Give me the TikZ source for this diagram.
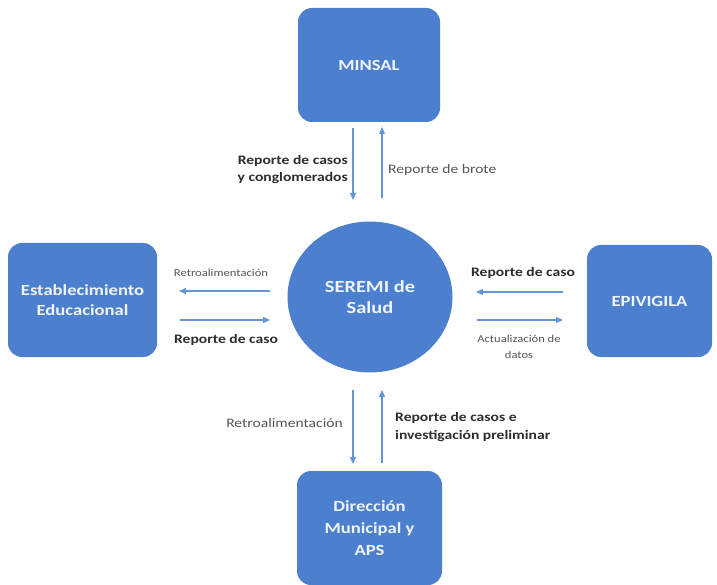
\documentclass[tikz,border=0pt]{standalone}
\usepackage{fontspec}
\setmainfont{Carlito}[FakeStretch=1.2]
\usetikzlibrary{arrows.meta,shapes.geometric}
\definecolor{boxblue}{RGB}{76,128,206}
\definecolor{arrblue}{RGB}{100,150,215}
\definecolor{txtdark}{RGB}{45,45,45}
\definecolor{txtgray}{RGB}{85,85,85}
\definecolor{boxtxt}{RGB}{240,244,252}
\tikzset{
  ent/.style={rectangle, rounded corners=14pt, fill=boxblue, draw=none, text=boxtxt, font=\bfseries\fontsize{15.5}{22}\selectfont, align=center, inner sep=0pt},
  flow/.style={draw=arrblue, line width=1.2pt, -{Triangle[length=7pt,width=6pt]}},
  lblb/.style={text=txtdark, font=\bfseries\fontsize{13}{18}\selectfont, inner sep=0pt},
  lbln/.style={text=txtgray, font=\fontsize{13}{18}\selectfont, inner sep=0pt},
  lbls/.style={text=txtgray, font=\fontsize{10.5}{16}\selectfont, inner sep=0pt, align=center}
}
\begin{document}
\begin{tikzpicture}[x=1pt,y=-1pt]
\useasboundingbox (0,0) rectangle (717,585);
% boxes
\node[ent, minimum width=142pt, minimum height=114pt] (minsal) at (369,65) {MINSAL};
\node[ent, minimum width=149pt, minimum height=114pt, font=\bfseries\fontsize{15.5}{20}\selectfont] (estab) at (82.5,300) {Establecimiento\\Educacional};
\node[ent, minimum width=125pt, minimum height=112pt] (epi) at (649.5,301) {EPIVIGILA};
\node[ent, minimum width=145pt, minimum height=114pt] (dir) at (369.5,528) {Dirección\\Municipal y\\APS};
\node[ellipse, fill=boxblue, minimum width=165pt, minimum height=151pt, text=boxtxt, font=\bfseries\fontsize{17}{21}\selectfont, align=center, inner sep=0pt] (seremi) at (370,297) {SEREMI de\\Salud};
% coordinates for arrows
\coordinate (t1) at (353,128); \coordinate (t2) at (353,200);
\coordinate (t3) at (382,198); \coordinate (t4) at (382,127);
\coordinate (l1) at (270,291); \coordinate (l2) at (179,291);
\coordinate (l3) at (180,320); \coordinate (l4) at (270,320);
\coordinate (r1) at (563,292); \coordinate (r2) at (476,292);
\coordinate (r3) at (477,320); \coordinate (r4) at (563,320);
\coordinate (b1) at (353,390); \coordinate (b2) at (353,464);
\coordinate (b3) at (382,463); \coordinate (b4) at (382,390);
\draw[flow] (t1) -- (t2);
\draw[flow] (t3) -- (t4);
\draw[flow] (l1) -- (l2);
\draw[flow] (l3) -- (l4);
\draw[flow] (r1) -- (r2);
\draw[flow] (r3) -- (r4);
\draw[flow] (b1) -- (b2);
\draw[flow] (b3) -- (b4);
% labels
\node[lblb, anchor=east, align=right, font=\bfseries\fontsize{13}{17}\selectfont] (la) at (348,170) {Reporte de casos\\y conglomerados};
\node[lbln, anchor=west] (lb) at (388,170) {Reporte de brote};
\node[lbls, anchor=center] (lc) at (221,273) {Retroalimentación};
\node[lblb, anchor=center] (ld) at (226,340) {Reporte de caso};
\node[lblb, anchor=center] (le) at (523,273) {Reporte de caso};
\node[lbls, anchor=center] (lf) at (519,347) {Actualización de\\datos};
\node[lbln, anchor=east] (lg) at (343,423) {Retroalimentación};
\node[lblb, anchor=west, align=left] (lh) at (395,427) {Reporte de casos e\\investigación preliminar};
\end{tikzpicture}
\end{document}
